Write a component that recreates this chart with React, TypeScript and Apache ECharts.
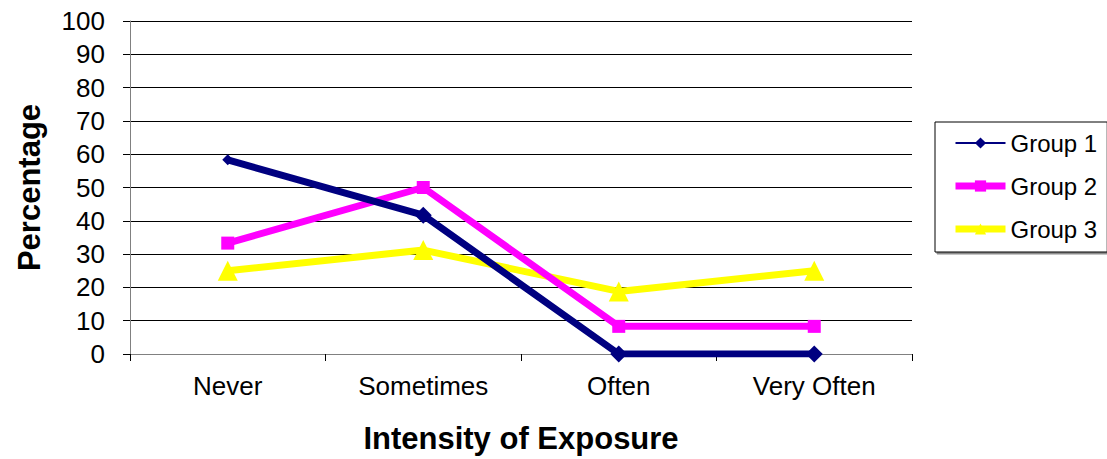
import React, { useEffect, useRef } from "react";
import * as echarts from "echarts";

const categories = ["Never", "Sometimes", "Often", "Very Often"];
const group1 = [58.3, 41.7, 0, 0];
const group2 = [33.3, 50, 8.3, 8.3];
const group3 = [25, 31.2, 18.8, 25];
const seriesNames = ["Group 1", "Group 2", "Group 3"];

const FONT = "'Liberation Sans', Arial, sans-serif";

export default function App() {
  const ref = useRef<HTMLDivElement>(null);
  useEffect(() => {
    if (!ref.current) return;
    const chart = echarts.init(ref.current, null, { renderer: "svg" });
    chart.setOption({
      animation: false,
      textStyle: { fontFamily: FONT },
      grid: { left: 130, right: 195, top: 21, bottom: 103 },
      legend: {
        orient: "vertical",
        left: 935,
        top: 122,
        padding: [9, 10, 11, 17],
        itemGap: 19,
        itemWidth: 50,
        itemHeight: 14,
        borderColor: "#000",
        borderWidth: 1,
        shadowColor: "rgba(0,0,0,0.45)",
        shadowOffsetX: 2,
        shadowOffsetY: 2,
        shadowBlur: 1,
        backgroundColor: "#fff",
        textStyle: { fontSize: 24, color: "#000", fontFamily: FONT },
        data: [
          { name: seriesNames[0], lineStyle: { width: 2 }, itemStyle: { color: "#000080" } },
          { name: seriesNames[1], lineStyle: { width: 7 } },
          { name: seriesNames[2], lineStyle: { width: 7 } },
        ],
      },
      xAxis: {
        type: "category",
        data: categories,
        boundaryGap: true,
        name: "Intensity of Exposure",
        nameLocation: "middle",
        nameGap: 69,
        nameTextStyle: { fontSize: 31, fontWeight: "bold", color: "#000", fontFamily: FONT },
        axisLine: { lineStyle: { color: "#808080", width: 1 } },
        axisTick: { show: true, length: 7, lineStyle: { color: "#000" } },
        axisLabel: { fontSize: 26, color: "#000", margin: 19, fontFamily: FONT },
      },
      yAxis: {
        type: "value",
        min: 0,
        max: 100,
        interval: 10,
        name: "Percentage",
        nameLocation: "middle",
        nameGap: 85,
        nameRotate: 90,
        nameTextStyle: { fontSize: 31, fontWeight: "bold", color: "#000", fontFamily: FONT },
        axisLine: { show: true, lineStyle: { color: "#808080", width: 1 } },
        axisTick: { show: true, length: 7, lineStyle: { color: "#000" } },
        axisLabel: { fontSize: 26, color: "#000", margin: 25, fontFamily: FONT },
        splitLine: { show: true, lineStyle: { color: "#000", width: 1 } },
      },
      series: [
        {
          name: seriesNames[0],
          type: "line",
          data: group1.map((v, i) => ({ value: v, symbolSize: i === 0 ? 11 : 17 })),
          symbol: "diamond",
          color: "#000080",
          lineStyle: { color: "#000080", width: 7 },
          itemStyle: { color: "#000080" },
          z: 4,
        },
        {
          name: seriesNames[1],
          type: "line",
          data: group2,
          symbol: "rect",
          symbolSize: 13,
          color: "#FF00FF",
          lineStyle: { color: "#FF00FF", width: 7 },
          itemStyle: { color: "#FF00FF" },
          z: 3,
        },
        {
          name: seriesNames[2],
          type: "line",
          data: group3,
          symbol: "triangle",
          symbolSize: 20,
          color: "#FFFF00",
          lineStyle: { color: "#FFFF00", width: 7 },
          itemStyle: { color: "#FFFF00" },
          z: 2,
        },
      ],
    });
    return () => chart.dispose();
  }, []);
  return <div ref={ref} style={{ width: 1107, height: 459, position: "absolute", left: 0, top: 0 }} />;
}
